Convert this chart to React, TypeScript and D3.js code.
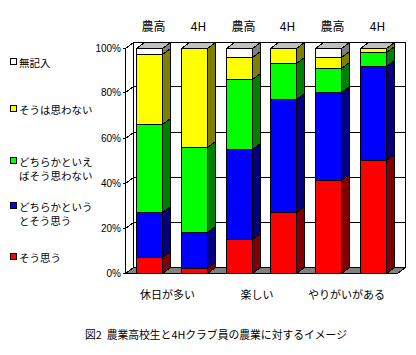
import React from 'react';
import * as d3 from 'd3';

const categories = ['休日が多い', '楽しい', 'やりがいがある'];
const barLabels = ['農高', '4H', '農高', '4H', '農高', '4H'];
const seriesKeys = ['soOmou', 'dochiraSo', 'dochiraNot', 'soNot', 'mukinyu'];
const legendLines = [
  ['無記入'],
  ['そうは思わない'],
  ['どちらかといえ', 'ばそう思わない'],
  ['どちらかという', 'とそう思う'],
  ['そう思う'],
];
const soOmou = [7, 2, 15, 27, 41, 50];
const dochiraSo = [20, 16, 40, 50, 39, 42];
const dochiraNot = [39, 38, 31, 16, 11, 6];
const soNot = [31, 44, 10, 7, 5, 2];
const mukinyu = [3, 0, 4, 0, 4, 0];
const yTicks = [0, 20, 40, 60, 80, 100];
const caption = '図2\u00A0\u00A0農業高校生と4Hクラブ員の農業に対するイメージ';

const frontColors = ['#FF0000', '#0000FF', '#00FF00', '#FFFF00', '#FFFFFF'];
const sideColors = ['#800000', '#000080', '#008000', '#808000', '#808080'];
const topColor = '#C0C0C0';

const JP = "'Noto Sans CJK JP', 'Noto Sans', sans-serif";

export default function App() {
  const x = d3
    .scaleBand<number>()
    .domain(d3.range(barLabels.length))
    .range([125, 397])
    .paddingInner(0.42)
    .paddingOuter(0.25);
  const y = d3.scaleLinear().domain([0, 100]).range([272.5, 47.5]);
  const DX = 8;
  const DY = 6;
  const bw = Math.round(x.bandwidth());

  const rows = barLabels.map((_, i) => ({
    soOmou: soOmou[i],
    dochiraSo: dochiraSo[i],
    dochiraNot: dochiraNot[i],
    soNot: soNot[i],
    mukinyu: mukinyu[i],
  }));
  const stacked = d3.stack<any>().keys(seriesKeys)(rows);

  const xl = 125.5;
  const xr = 397.5;
  const y0 = Math.round(y(0)) + 0.5;
  const y100 = Math.round(y(100)) + 0.5;
  const ry = (v: number) => Math.round(y(v)) + 0.5;

  const legendY = [62, 109, 161, 206, 257];
  const legendColors = [frontColors[4], frontColors[3], frontColors[2], frontColors[1], frontColors[0]];

  return (
    <svg
      width={416}
      height={355}
      style={{ position: 'absolute', left: 0, top: 0, background: '#fff' }}
      shapeRendering="crispEdges"
    >
      <rect x={0} y={0} width={416} height={355} fill="#fff" />
      {/* back wall */}
      <rect x={xl + DX} y={y100 - DY} width={xr - xl} height={y0 - y100} fill="#fff" stroke="#000" />
      {yTicks
        .filter((t) => t > 0 && t < 100)
        .map((t) => (
          <line key={'g' + t} x1={xl + DX} x2={xr + DX} y1={ry(t) - DY} y2={ry(t) - DY} stroke="#000" />
        ))}
      {/* left wall */}
      <polygon
        points={`${xl},${y0} ${xl},${y100} ${xl + DX},${y100 - DY} ${xl + DX},${y0 - DY}`}
        fill="#fff"
        stroke="#000"
      />
      {yTicks.map((t) => (
        <g key={'t' + t}>
          <line x1={xl} y1={ry(t)} x2={xl + DX} y2={ry(t) - DY} stroke="#000" />
          <line x1={xl - 3} x2={xl} y1={ry(t)} y2={ry(t)} stroke="#000" />
          <text
            x={121}
            y={ry(t)}
            textAnchor="end"
            dominantBaseline="central"
            fontFamily="'Liberation Sans', Arial, sans-serif"
            fontSize={10}
          >
            {t + '%'}
          </text>
        </g>
      ))}
      {/* floor */}
      <polygon
        points={`${xl},${y0} ${xr},${y0} ${xr + DX},${y0 - DY} ${xl + DX},${y0 - DY}`}
        fill="#808080"
        stroke="#000"
      />
      {/* bars */}
      {barLabels.map((lab, i) => {
        const x0 = Math.round(x(i) as number) + 0.5;
        const x1 = x0 + bw;
        const top = stacked[stacked.length - 1][i][1];
        const yt = ry(top);
        return (
          <g key={'b' + i}>
            {stacked.map((s, si) => {
              const [v0, v1] = s[i];
              if (v1 - v0 <= 0) return null;
              const ya = ry(v1);
              const yb = ry(v0);
              return (
                <g key={si}>
                  <rect x={x0} y={ya} width={bw} height={yb - ya} fill={frontColors[si]} stroke="#000" />
                  <polygon
                    points={`${x1},${ya} ${x1 + DX},${ya - DY} ${x1 + DX},${yb - DY} ${x1},${yb}`}
                    fill={sideColors[si]}
                    stroke="#000"
                  />
                </g>
              );
            })}
            <polygon
              points={`${x0},${yt} ${x0 + DX},${yt - DY} ${x1 + DX},${yt - DY} ${x1},${yt}`}
              fill={topColor}
              stroke="#000"
            />
            <text
              x={x0 + (bw + DX) / 2}
              y={25}
              textAnchor="middle"
              dominantBaseline="central"
              fontFamily={JP}
              fontSize={12}
            >
              {lab}
            </text>
          </g>
        );
      })}
      {/* category labels */}
      {categories.map((c, ci) => {
        const a = x(ci * 2) as number;
        const b = (x(ci * 2 + 1) as number) + bw;
        return (
          <text
            key={'c' + ci}
            x={(a + b) / 2 - 4}
            y={294}
            textAnchor="middle"
            dominantBaseline="central"
            fontFamily={JP}
            fontSize={11}
          >
            {c}
          </text>
        );
      })}
      {/* legend */}
      {legendLines.map((lines, li) => (
        <g key={'l' + li}>
          <rect x={10.5} y={legendY[li] - 3.5} width={6} height={6} fill={legendColors[li]} stroke="#000" />
          <text
            x={19}
            y={legendY[li]}
            dominantBaseline="central"
            fontFamily={JP}
            fontSize={10.5}
          >
            {lines.map((ln, k) => (
              <tspan key={k} x={19} y={legendY[li] + k * 13.5}>
                {ln}
              </tspan>
            ))}
          </text>
        </g>
      ))}
      <text
        x={85}
        y={334}
        dominantBaseline="central"
        fontFamily={JP}
        fontSize={11}
        textLength={262}
        lengthAdjust="spacingAndGlyphs"
      >
        {caption}
      </text>
    </svg>
  );
}
